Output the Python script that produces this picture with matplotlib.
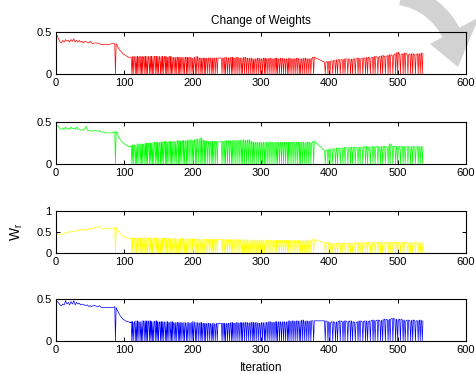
import matplotlib
matplotlib.use("Agg")
import matplotlib.pyplot as plt
from matplotlib.patches import Arc, Polygon

# ---------------- data ----------------
early_iters = [0, 2, 4, 6, 8, 10, 12, 14, 16, 18,
               20, 22, 24, 26, 28, 30, 32, 34, 36, 38,
               40, 42, 44, 46, 48, 50, 52, 54, 56, 58,
               60, 62, 64, 66, 68, 70, 72, 74, 76, 78,
               80, 82, 84, 86,
               87,
               88, 90, 92, 94, 96, 98, 100, 102, 104, 106, 108, 110]

red_early = [0.48, 0.45, 0.41, 0.38, 0.37, 0.40, 0.38, 0.41, 0.39, 0.40,
             0.38, 0.41, 0.39, 0.42, 0.38, 0.40, 0.38, 0.40, 0.38, 0.39,
             0.37, 0.39, 0.38, 0.38, 0.37, 0.39, 0.37, 0.36, 0.37, 0.37,
             0.37, 0.36, 0.36, 0.35, 0.35, 0.35, 0.35, 0.35, 0.35, 0.35,
             0.36, 0.36, 0.36, 0.36,
             0.00,
             0.36, 0.33, 0.30, 0.28, 0.26, 0.24, 0.23, 0.22, 0.21, 0.20, 0.20, 0.20]
green_early = [0.48, 0.46, 0.44, 0.42, 0.41, 0.43, 0.41, 0.44, 0.42, 0.43,
               0.41, 0.44, 0.42, 0.43, 0.41, 0.44, 0.41, 0.42, 0.40, 0.41,
               0.40, 0.42, 0.45, 0.40, 0.40, 0.39, 0.40, 0.39, 0.40, 0.40,
               0.39, 0.39, 0.40, 0.38, 0.38, 0.38, 0.37, 0.37, 0.37, 0.37,
               0.37, 0.37, 0.38, 0.38,
               0.00,
               0.39, 0.35, 0.32, 0.29, 0.27, 0.25, 0.24, 0.23, 0.22, 0.21, 0.20, 0.21]
yellow_early = [0.48, 0.46, 0.44, 0.43, 0.43, 0.45, 0.47, 0.49, 0.50, 0.48,
                0.51, 0.50, 0.52, 0.51, 0.53, 0.52, 0.55, 0.53, 0.55, 0.54,
                0.56, 0.55, 0.56, 0.55, 0.57, 0.58, 0.57, 0.59, 0.60, 0.61,
                0.62, 0.62, 0.63, 0.60, 0.57, 0.57, 0.57, 0.58, 0.58, 0.58,
                0.59, 0.59, 0.60, 0.60,
                0.00,
                0.60, 0.56, 0.50, 0.46, 0.43, 0.40, 0.38, 0.37, 0.36, 0.35, 0.35, 0.35]
blue_early = [0.48, 0.47, 0.45, 0.43, 0.42, 0.44, 0.43, 0.48, 0.44, 0.46,
              0.43, 0.47, 0.44, 0.48, 0.43, 0.46, 0.44, 0.45, 0.43, 0.44,
              0.43, 0.43, 0.42, 0.43, 0.41, 0.42, 0.41, 0.42, 0.42, 0.42,
              0.41, 0.41, 0.42, 0.40, 0.40, 0.40, 0.40, 0.40, 0.40, 0.40,
              0.40, 0.40, 0.40, 0.41,
              0.00,
              0.40, 0.36, 0.33, 0.30, 0.28, 0.26, 0.25, 0.24, 0.23, 0.23, 0.22, 0.22]

# iterations where the weights drop to zero (shared by all four weights)
dips_b = [111, 113, 116, 118, 120, 123, 125, 127, 130, 132,
          134, 137, 139, 141, 143, 146, 148, 150, 153, 155,
          157, 160, 162, 164, 167, 169, 171, 174, 176, 179,
          181, 183, 186, 188, 191, 193, 196, 199, 201, 204,
          206, 209, 212, 214, 217, 219, 222, 225, 228, 230,
          233, 236]
dips_d = [243, 246, 248, 251, 254, 257, 259, 262, 265, 268,
          271, 273, 276, 279, 282, 285, 288, 290, 293, 296,
          299, 302, 305, 307, 310, 313, 316, 319, 322, 324,
          327, 330, 333, 336, 339, 341, 344, 347, 350, 353,
          356, 358, 361, 364, 367, 370, 373, 377]
dips_f = [394, 398, 401, 405, 409, 412, 416, 420, 423, 427,
          431, 434, 438, 442, 445, 449, 453, 456, 460, 464,
          467, 471, 475, 478, 482, 486, 489, 493, 497, 500,
          504, 508, 511, 515, 519, 522, 526, 530, 533, 536]

# weight value on both sides of each drop
red_tops = [0.20, 0.21, 0.20, 0.21, 0.20, 0.21, 0.21, 0.20, 0.21, 0.20,
            0.21, 0.20, 0.21, 0.20, 0.21, 0.21, 0.20, 0.21, 0.20, 0.21,
            0.20, 0.21, 0.20, 0.20, 0.21, 0.20, 0.20, 0.19, 0.20, 0.20,
            0.19, 0.20, 0.19, 0.20, 0.20, 0.19, 0.20, 0.19, 0.19, 0.20,
            0.21, 0.19, 0.19, 0.19, 0.19, 0.18, 0.19, 0.19, 0.19, 0.19,
            0.19, 0.19,
            0.19, 0.19, 0.20, 0.19, 0.19, 0.20, 0.19, 0.19, 0.20, 0.19,
            0.19, 0.19, 0.20, 0.19, 0.18, 0.19, 0.18, 0.18, 0.18, 0.19,
            0.18, 0.18, 0.19, 0.18, 0.18, 0.19, 0.18, 0.18, 0.19, 0.18,
            0.18, 0.19, 0.18, 0.18, 0.18, 0.19, 0.18, 0.18, 0.18, 0.19,
            0.18, 0.18, 0.18, 0.19, 0.18, 0.18, 0.18, 0.20,
            0.14, 0.15, 0.15, 0.16, 0.16, 0.17, 0.17, 0.17, 0.18, 0.18,
            0.17, 0.18, 0.18, 0.19, 0.18, 0.19, 0.19, 0.20, 0.19, 0.20,
            0.21, 0.20, 0.21, 0.22, 0.21, 0.22, 0.23, 0.22, 0.24, 0.26,
            0.23, 0.24, 0.25, 0.23, 0.24, 0.24, 0.23, 0.24, 0.24, 0.25]
green_tops = [0.22, 0.23, 0.22, 0.23, 0.24, 0.23, 0.24, 0.23, 0.24, 0.25,
              0.24, 0.25, 0.24, 0.25, 0.26, 0.25, 0.26, 0.25, 0.26, 0.25,
              0.26, 0.27, 0.26, 0.26, 0.27, 0.26, 0.27, 0.26, 0.27, 0.28,
              0.27, 0.26, 0.28, 0.27, 0.28, 0.27, 0.29, 0.28, 0.28, 0.29,
              0.30, 0.28, 0.31, 0.29, 0.28, 0.27, 0.27, 0.26, 0.27, 0.26,
              0.27, 0.26,
              0.27, 0.27, 0.28, 0.27, 0.28, 0.27, 0.28, 0.28, 0.27, 0.28,
              0.28, 0.29, 0.28, 0.28, 0.29, 0.27, 0.26, 0.25, 0.26, 0.25,
              0.26, 0.25, 0.26, 0.26, 0.25, 0.26, 0.26, 0.25, 0.26, 0.26,
              0.25, 0.26, 0.25, 0.26, 0.26, 0.25, 0.26, 0.26, 0.25, 0.26,
              0.26, 0.25, 0.26, 0.25, 0.26, 0.26, 0.25, 0.27,
              0.16, 0.17, 0.18, 0.18, 0.18, 0.19, 0.19, 0.19, 0.20, 0.19,
              0.20, 0.20, 0.20, 0.19, 0.20, 0.20, 0.21, 0.20, 0.20, 0.21,
              0.20, 0.21, 0.20, 0.21, 0.21, 0.20, 0.24, 0.21, 0.21, 0.20,
              0.21, 0.21, 0.20, 0.21, 0.20, 0.21, 0.20, 0.21, 0.20, 0.21]
yellow_tops = [0.35, 0.36, 0.35, 0.36, 0.35, 0.36, 0.35, 0.36, 0.37, 0.35,
               0.36, 0.35, 0.36, 0.35, 0.36, 0.35, 0.36, 0.35, 0.34, 0.35,
               0.34, 0.35, 0.34, 0.35, 0.34, 0.33, 0.34, 0.35, 0.34, 0.33,
               0.34, 0.33, 0.35, 0.34, 0.33, 0.34, 0.33, 0.34, 0.33, 0.33,
               0.34, 0.33, 0.32, 0.33, 0.32, 0.33, 0.32, 0.32, 0.33, 0.32,
               0.32, 0.32,
               0.32, 0.31, 0.32, 0.31, 0.32, 0.31, 0.32, 0.31, 0.31, 0.32,
               0.31, 0.32, 0.31, 0.31, 0.30, 0.31, 0.30, 0.31, 0.30, 0.30,
               0.31, 0.30, 0.30, 0.31, 0.30, 0.30, 0.29, 0.30, 0.31, 0.30,
               0.29, 0.30, 0.29, 0.30, 0.30, 0.29, 0.30, 0.29, 0.30, 0.29,
               0.30, 0.29, 0.30, 0.29, 0.30, 0.29, 0.30, 0.32,
               0.24, 0.26, 0.22, 0.23, 0.22, 0.23, 0.24, 0.23, 0.24, 0.23,
               0.24, 0.23, 0.24, 0.25, 0.24, 0.25, 0.24, 0.25, 0.24, 0.25,
               0.24, 0.25, 0.26, 0.25, 0.24, 0.25, 0.26, 0.25, 0.26, 0.25,
               0.25, 0.26, 0.25, 0.24, 0.25, 0.24, 0.25, 0.24, 0.25, 0.25]
blue_tops = [0.23, 0.22, 0.23, 0.24, 0.23, 0.22, 0.23, 0.24, 0.23, 0.24,
             0.23, 0.24, 0.23, 0.22, 0.23, 0.24, 0.23, 0.22, 0.23, 0.22,
             0.23, 0.22, 0.23, 0.22, 0.22, 0.23, 0.22, 0.21, 0.22, 0.22,
             0.21, 0.22, 0.21, 0.22, 0.21, 0.22, 0.21, 0.22, 0.23, 0.21,
             0.22, 0.21, 0.22, 0.21, 0.21, 0.20, 0.21, 0.21, 0.20, 0.21,
             0.20, 0.21,
             0.21, 0.21, 0.20, 0.21, 0.21, 0.22, 0.21, 0.21, 0.22, 0.21,
             0.22, 0.21, 0.22, 0.22, 0.21, 0.22, 0.22, 0.21, 0.22, 0.21,
             0.21, 0.22, 0.21, 0.22, 0.22, 0.23, 0.22, 0.22, 0.23, 0.22,
             0.23, 0.22, 0.23, 0.22, 0.23, 0.24, 0.23, 0.24, 0.23, 0.24,
             0.23, 0.24, 0.25, 0.23, 0.24, 0.23, 0.24, 0.24,
             0.24, 0.23, 0.22, 0.23, 0.22, 0.23, 0.24, 0.23, 0.24, 0.23,
             0.24, 0.23, 0.22, 0.23, 0.24, 0.23, 0.24, 0.23, 0.24, 0.25,
             0.24, 0.25, 0.24, 0.25, 0.26, 0.25, 0.26, 0.27, 0.26, 0.25,
             0.26, 0.25, 0.24, 0.25, 0.24, 0.25, 0.24, 0.24, 0.25, 0.24]

colors = ["#ff0000", "#00ff00", "#ffff00", "#0000ff"]
ylims = [0.5, 0.5, 1.0, 0.5]
yticks = [[0, 0.5], [0, 0.5], [0, 0.5, 1], [0, 0.5]]
ytick_labels = [["0", "0.5"], ["0", "0.5"], ["0", "0.5", "1"], ["0", "0.5"]]
xticks = [0, 100, 200, 300, 400, 500, 600]
xtick_labels = ["0", "100", "200", "300", "400", "500", "600"]
title = "Change of Weights"
xlabel = "Iteration"
ylabel = r"$\mathregular{W_r}$"

# ---------------- figure ----------------
plt.rcParams["font.family"] = ["Liberation Sans", "DejaVu Sans"]
plt.rcParams["mathtext.fontset"] = "custom"
plt.rcParams["mathtext.rm"] = "Liberation Sans"

W, H = 477, 374
fig = plt.figure(figsize=(W / 100, H / 100), dpi=100)

# faint watermark (circular arrow) in the top-right corner of the page
bg = fig.add_axes([0, 0, 1, 1], zorder=0)
bg.set_xlim(0, W)
bg.set_ylim(H, 0)
bg.axis("off")
bg.add_patch(Arc((389, 64), 139, 139, theta1=-80, theta2=-24,
                 color="#d2d2d2", lw=14))
bg.add_patch(Polygon([(479, 17), (430, 44), (458, 67)], closed=True,
                     facecolor="#d2d2d2", edgecolor="none"))

dips = dips_b + dips_d + dips_f
series = [(red_early, red_tops), (green_early, green_tops),
          (yellow_early, yellow_tops), (blue_early, blue_tops)]

tops_px = [32, 122, 211, 299]
left, width, height = 56 / W, 410 / W, 42 / H

axes = []
for k, (early, tops) in enumerate(series):
    ax = fig.add_axes([left, 1 - (tops_px[k] + 42) / H, width, height], zorder=1)
    ax.set_facecolor("none")
    xs = list(early_iters)
    ys = list(early)
    for d, t in zip(dips, tops):
        xs += [d - 1, d, d + 1]
        ys += [t, 0.0, t]
    ax.plot(xs, ys, color=colors[k], lw=0.5)
    ax.set_xlim(0, 600)
    ax.set_ylim(0, ylims[k])
    ax.set_xticks(xticks)
    ax.set_xticklabels(xtick_labels)
    ax.set_yticks(yticks[k])
    ax.set_yticklabels(ytick_labels[k])
    ax.tick_params(direction="in", length=3, width=0.7, top=True, right=True,
                   labelsize=8, pad=3, colors="black")
    for s in ax.spines.values():
        s.set_linewidth(0.8)
    axes.append(ax)

axes[0].set_title(title, fontsize=8.5, pad=6)
axes[3].set_xlabel(xlabel, fontsize=8.5, labelpad=5)
axes[2].set_ylabel(ylabel, fontsize=10, labelpad=8)

fig.savefig("out.png", dpi=100)
